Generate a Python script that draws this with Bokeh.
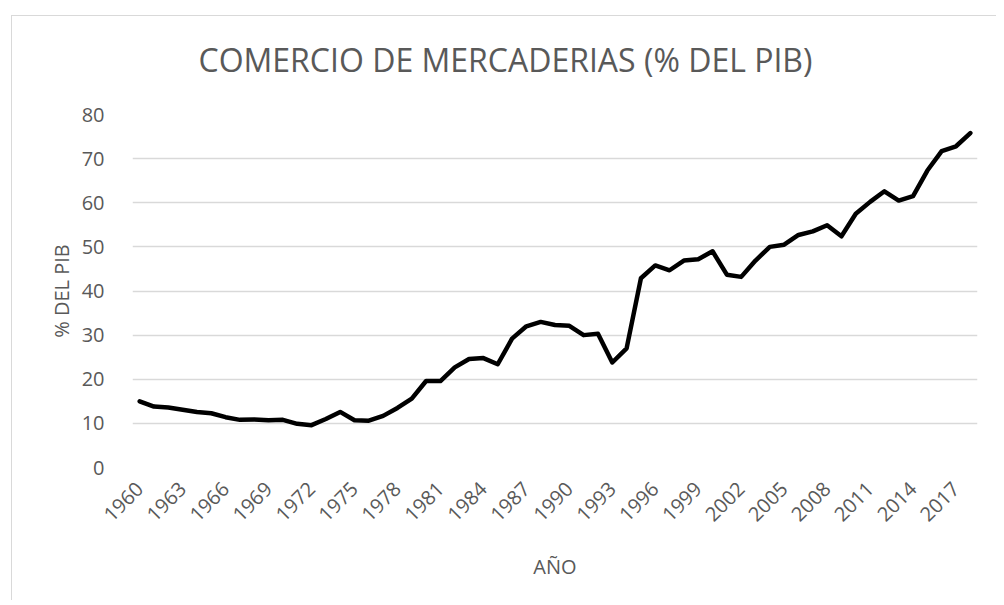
import math
from bokeh.plotting import figure
from bokeh.models import FixedTicker, ColumnDataSource
from bokeh.embed import file_html
from bokeh.resources import INLINE

years = list(range(1960, 2019))
values = [15.0, 13.8, 13.6, 13.1, 12.6, 12.3, 11.4, 10.8, 10.9, 10.7,
          10.8, 9.9, 9.6, 11.0, 12.6, 10.7, 10.6, 11.7, 13.5, 15.6,
          19.6, 19.6, 22.7, 24.6, 24.8, 23.4, 29.2, 32.0, 33.0, 32.3,
          32.1, 30.0, 30.3, 23.8, 27.0, 42.9, 45.8, 44.7, 46.9, 47.2,
          49.0, 43.7, 43.2, 46.9, 50.0, 50.5, 52.7, 53.5, 54.9, 52.4,
          57.5, 60.2, 62.6, 60.5, 61.5, 67.3, 71.7, 72.8, 75.8]
x_tick_years = list(range(1960, 2018, 3))
x_tick_labels = [str(y) for y in x_tick_years]
y_ticks = [0, 10, 20, 30, 40, 50, 60, 70, 80]

TITLE = "COMERCIO DE MERCADERIAS (% DEL PIB)"
X_LABEL = "AÑO"
Y_LABEL = "% DEL PIB"

FONT = "Open Sans"
GREY = "#595959"
GRID = "#d9d9d9"

src = ColumnDataSource(dict(year=years, value=values))

p = figure(width=996, height=600, output_backend="svg", toolbar_location=None,
           x_range=(years[0] - 0.5, years[-1] + 0.5), y_range=(0, 80),
           min_border_left=132, min_border_right=19, min_border_top=114,
           min_border_bottom=133, title=TITLE)
# chart-area border (left and top edges), drawn behind a transparent canvas
p.styles = {"background":
            "linear-gradient(#d9d9d9, #d9d9d9) 11px 15px / 1px 100% no-repeat, "
            "linear-gradient(#d9d9d9, #d9d9d9) 11px 15px / 100% 1px no-repeat, white"}

p.outline_line_color = None
p.background_fill_color = "white"
p.border_fill_color = None

p.title.align = "left"
p.title.text_font = FONT
p.title.text_font_size = "32px"
p.title.text_font_style = "normal"
p.title.text_color = GREY
p.title.standoff = 68
p.title.offset = 66

p.line("year", "value", source=src, line_color="black", line_width=4.5,
       line_join="round", line_cap="round")

p.xgrid.grid_line_color = None
p.ygrid.grid_line_color = GRID
p.ygrid.grid_line_width = 1.3

p.xaxis.ticker = FixedTicker(ticks=x_tick_years)
p.xaxis.major_label_overrides = {y: l for y, l in zip(x_tick_years, x_tick_labels)}
p.xaxis.major_label_orientation = math.pi / 4
p.yaxis.ticker = FixedTicker(ticks=y_ticks)

for ax in (p.xaxis[0], p.yaxis[0]):
    ax.axis_line_color = None
    ax.major_tick_line_color = None
    ax.minor_tick_line_color = None
    ax.major_label_text_font = FONT
    ax.major_label_text_font_size = "20px"
    ax.major_label_text_color = GREY
    ax.axis_label_text_font = FONT
    ax.axis_label_text_font_size = "20px"
    ax.axis_label_text_font_style = "normal"
    ax.axis_label_text_color = GREY

p.xaxis.axis_label = X_LABEL
p.yaxis.axis_label = Y_LABEL
p.xaxis.major_label_standoff = 12
p.yaxis.major_label_standoff = 22
p.xaxis.axis_label_standoff = 22
p.yaxis.axis_label_standoff = 4

open("out.html", "w").write(file_html(p, INLINE))
